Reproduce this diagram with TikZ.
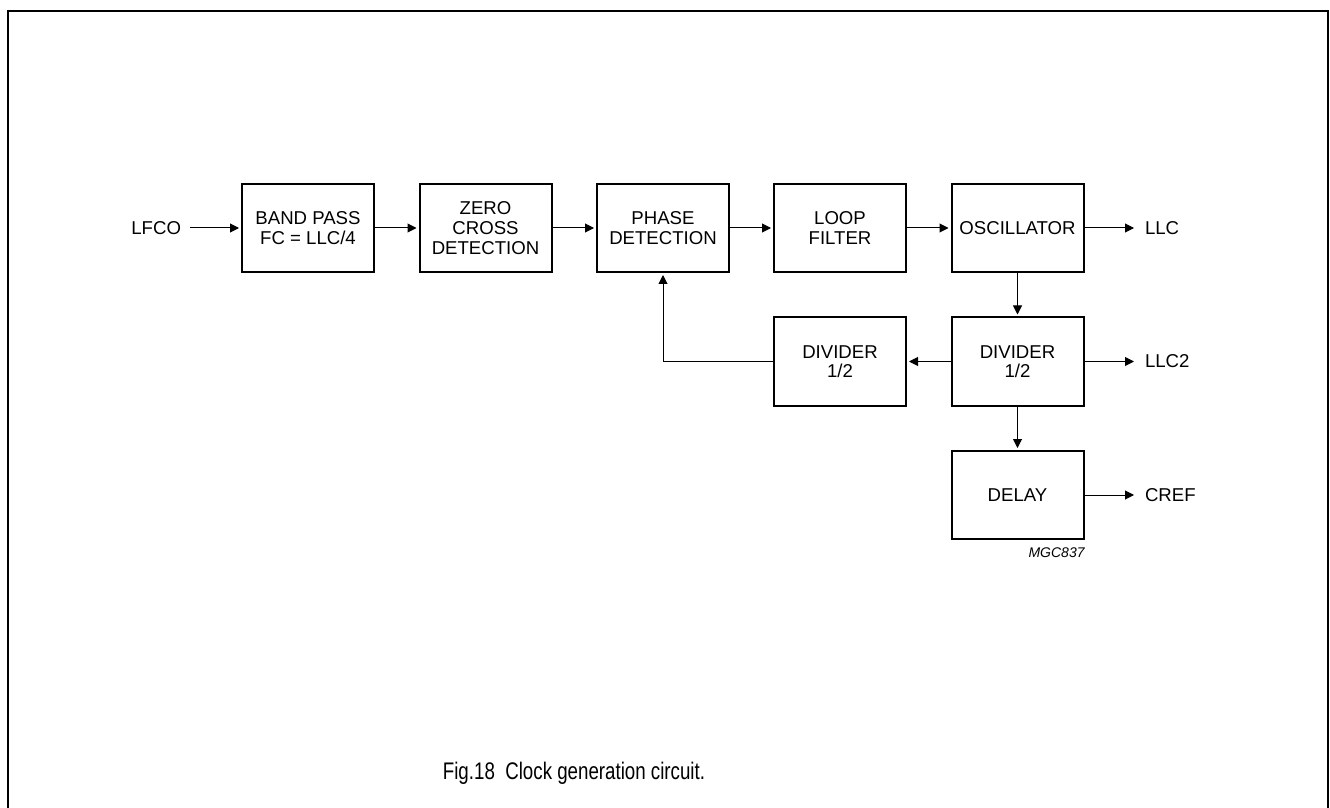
\documentclass[tikz,border=0pt]{standalone}
\usepackage{fontspec}
\setmainfont{Liberation Sans}
\usetikzlibrary{arrows.meta}

\begin{document}
\begin{tikzpicture}[x=0.5pt,y=-0.5pt,
  block/.style={draw,line width=1pt,minimum width=66pt,minimum height=44pt,
    align=center,inner sep=1pt,font=\fontsize{9.3}{9.8}\selectfont},
  sig/.style={inner sep=0pt,outer sep=4.5pt,font=\fontsize{9.3}{9.8}\selectfont},
  flow/.style={line width=0.5pt,shorten >=1pt,-{Triangle[length=4.5pt,width=4.5pt]}}]
\useasboundingbox (0,0) rectangle (1330,808);
\draw[line width=0.8pt] (8,808)--(8,11)--(1328,11)--(1328,808);

 \node[block] at (308, 228)    (band)  {BAND PASS\\FC = LLC/4};
 \node[block] at (485.5, 228)  (zero)  {ZERO\\CROSS\\DETECTION};
 \node[block] at (663, 228)    (phase) {PHASE\\DETECTION};
 \node[block] at (840, 228)    (loop)  {LOOP\\FILTER};
 \node[block] at (1017.5, 228) (osc)   {OSCILLATOR};
 \node[block] at (1017.5, 361.5) (divb) {DIVIDER\\1/2};
 \node[block] at (840, 361.5)  (diva)  {DIVIDER\\1/2};
 \node[block] at (1017.5, 495) (delay) {DELAY};

 \node[sig,anchor=east] at (190, 228)  (lfco) {LFCO};
 \node[sig,anchor=west] at (1136, 228) (llc)  {LLC};
 \node[sig,anchor=west] at (1136, 361.5) (llctwo) {LLC2};
 \node[sig,anchor=west] at (1136, 495) (cref) {CREF};

 \draw[flow] (lfco)--(band);
 \draw[flow] (band)--(zero);
 \draw[flow] (zero)--(phase);
 \draw[flow] (phase)--(loop);
 \draw[flow] (loop)--(osc);
 \draw[flow] (osc)--(llc);
 \draw[flow] (osc)--(divb);
 \draw[flow] (divb)--(llctwo);
 \draw[flow] (divb)--(diva);
 \draw[flow] (divb)--(delay);
 \draw[flow] (delay)--(cref);
 % feedback to phase detector
 \draw[flow] (diva.west) -| (phase.south);

 \node[anchor=east,inner sep=0pt,font=\fontsize{7}{8}\selectfont\itshape] at (1085, 553) (code) {MGC837};
 \node[inner sep=0pt] at (574, 773) (caption)
   {\scalebox{0.78}[1]{\fontsize{12}{14}\selectfont Fig.18\ \ Clock generation circuit.}};
\end{tikzpicture}
\end{document}
